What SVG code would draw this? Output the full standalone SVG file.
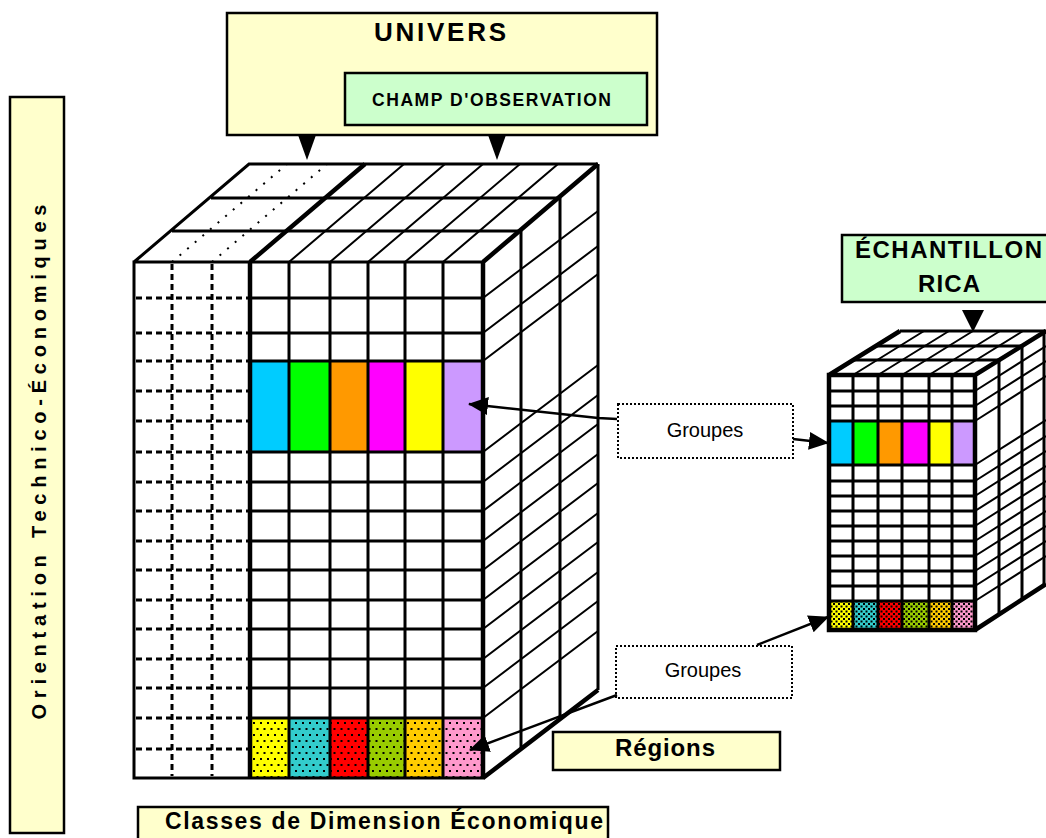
<svg xmlns="http://www.w3.org/2000/svg" width="1046" height="838" viewBox="0 0 1046 838">
<style>
.t{font-family:"Liberation Sans",Arial,sans-serif;fill:#000}
.b{font-weight:bold}
.box{stroke:#000;stroke-width:2.5}
.yel{fill:#FFFFCC}
.grn{fill:#CCFFCC}
.frame{stroke:#000;stroke-width:3;fill:none}
.thick{stroke:#000;stroke-width:4.5;fill:none}
.grid{stroke:#000;stroke-width:3;fill:none}
.dash{stroke:#000;stroke-width:3;fill:none;stroke-dasharray:6 4}
.hatch{stroke:#000;stroke-width:2;fill:none}
.sparse{stroke:#000;stroke-width:2;fill:none;stroke-dasharray:2 8}
.dotbox{fill:#fff;stroke:#000;stroke-width:2;stroke-dasharray:2 2}
.conn{stroke:#000;stroke-width:2.5;fill:none;marker-end:url(#ah)}
</style>
<defs>
<pattern id="dotsL" width="7" height="12" patternUnits="userSpaceOnUse"><rect x="1" y="2" width="2" height="2" fill="#000"/><rect x="4.5" y="8" width="2" height="2" fill="#000"/></pattern>
<pattern id="dotsS" width="5" height="5" patternUnits="userSpaceOnUse"><rect x="0.5" y="0.5" width="2" height="2" fill="#000"/><rect x="3" y="3" width="2" height="2" fill="#000"/></pattern>
<marker id="ah" markerUnits="userSpaceOnUse" markerWidth="20" markerHeight="20" refX="19" refY="10" orient="auto" viewBox="0 0 20 20"><path d="M0,1L20,10L0,19Z" fill="#000"/></marker>
</defs>

<g id="node-orientation">
<rect x="10" y="97" width="54" height="736" class="box yel"/>
<text class="t b" font-size="20" text-anchor="middle" transform="translate(46,462) rotate(-90)" textLength="515" lengthAdjust="spacing">Orientation Technico-Économiques</text>
</g>

<g id="node-univers">
<rect x="227" y="13" width="430" height="122" class="box yel" stroke-width="3"/>
<text class="t b" x="374" y="41" font-size="26" textLength="132" lengthAdjust="spacing">UNIVERS</text>
<polygon points="298,135 316,135 307,160"/>
<polygon points="488,135 506,135 497,160"/>
</g>

<g id="node-champ">
<rect x="345" y="73" width="302" height="52" class="box grn" stroke-width="2"/>
<text class="t b" x="372" y="106" font-size="17.5" textLength="239" lengthAdjust="spacing">CHAMP D'OBSERVATION</text>
</g>

<g id="node-cube-main">
<rect x="134" y="262" width="349" height="516" fill="#fff"/>
<polygon points="134,262 249,164 598,164 483,262" fill="#fff"/>
<polygon points="483,262 598,164 598,690 483,778" fill="#fff"/>
<rect x="250" y="361" width="39" height="91" fill="#00CCFF"/>
<rect x="289" y="361" width="41" height="91" fill="#00FF00"/>
<rect x="330" y="361" width="38" height="91" fill="#FF9900"/>
<rect x="368" y="361" width="37" height="91" fill="#FF00FF"/>
<rect x="405" y="361" width="38" height="91" fill="#FFFF00"/>
<rect x="443" y="361" width="40" height="91" fill="#CC99FF"/>
<rect x="250" y="718" width="39" height="60" fill="#FFFF00"/>
<rect x="289" y="718" width="41" height="60" fill="#33CCCC"/>
<rect x="330" y="718" width="38" height="60" fill="#FF0000"/>
<rect x="368" y="718" width="37" height="60" fill="#99CC00"/>
<rect x="405" y="718" width="38" height="60" fill="#FFCC00"/>
<rect x="443" y="718" width="40" height="60" fill="#FF99CC"/>
<rect x="250" y="718" width="233" height="60" fill="url(#dotsL)"/>
<path class="dash" d="M172,264V776 M212,264V776 M136,298H248 M136,333H248 M136,361H248 M136,391H248 M136,421H248 M136,452H248 M136,482H248 M136,511H248 M136,541H248 M136,570H248 M136,600H248 M136,629H248 M136,659H248 M136,688H248 M136,718H248 M136,749H248"/>
<path class="grid" d="M289,262V778 M330,262V778 M368,262V778 M405,262V778 M443,262V778 M250,298H483 M250,333H483 M250,361H483 M250,452H483 M250,482H483 M250,511H483 M250,541H483 M250,570H483 M250,600H483 M250,629H483 M250,659H483 M250,688H483 M250,718H483"/>
<path class="sparse" d="M172,262l115,-98 M212,262l115,-98"/>
<path class="hatch" d="M289,262l115,-98 M330,262l115,-98 M368,262l115,-98 M405,262l115,-98 M443,262l115,-98"/>
<path class="hatch" d="M483,298l115,-87 M483,333l115,-87 M483,361l115,-87 M483,452l115,-87 M483,482l115,-87 M483,511l115,-87 M483,541l115,-87 M483,570l115,-87 M483,600l115,-87 M483,629l115,-87 M483,659l115,-87 M483,688l115,-87 M483,718l115,-87"/>
<path class="frame" d="M134,262H483V778H134Z M134,262L249,164H598 M172,231H521 M211,198H560 M521,231V749 M560,198V719 M598,164V690"/>
<path class="thick" d="M250,262V778 M483,262V778 M250,262L365,164 M483,262L598,164 M483,778L598,690"/>
</g>

<g id="node-echantillon">
<rect x="842" y="235" width="210" height="67" class="box grn" stroke-width="2.5"/>
<text class="t b" x="855" y="258" font-size="24" textLength="187" lengthAdjust="spacing">ÉCHANTILLON</text>
<text class="t b" x="918" y="292" font-size="24" textLength="62" lengthAdjust="spacing">RICA</text>
<polygon points="962,310 984,310 973,332"/>
</g>

<g id="node-cube-rica">
<rect x="829" y="375" width="146" height="255" fill="#fff"/>
<polygon points="829,375 900,331 1046,331 975,375" fill="#fff"/>
<polygon points="975,375 1046,331 1046,585 975,630" fill="#fff"/>
<rect x="829" y="421" width="24" height="44" fill="#00CCFF"/>
<rect x="853" y="421" width="25" height="44" fill="#00FF00"/>
<rect x="878" y="421" width="24" height="44" fill="#FF9900"/>
<rect x="902" y="421" width="27" height="44" fill="#FF00FF"/>
<rect x="929" y="421" width="23" height="44" fill="#FFFF00"/>
<rect x="952" y="421" width="23" height="44" fill="#CC99FF"/>
<rect x="829" y="601" width="24" height="29" fill="#FFFF00"/>
<rect x="853" y="601" width="25" height="29" fill="#33CCCC"/>
<rect x="878" y="601" width="24" height="29" fill="#FF0000"/>
<rect x="902" y="601" width="27" height="29" fill="#99CC00"/>
<rect x="929" y="601" width="23" height="29" fill="#FFCC00"/>
<rect x="952" y="601" width="23" height="29" fill="#FF99CC"/>
<rect x="829" y="601" width="146" height="29" fill="url(#dotsS)"/>
<path class="grid" stroke-width="3.5" d="M853,375V630 M878,375V630 M902,375V630 M929,375V630 M952,375V630 M829,391H975 M829,406H975 M829,421H975 M829,465H975 M829,481H975 M829,496H975 M829,511H975 M829,526H975 M829,541H975 M829,556H975 M829,571H975 M829,586H975 M829,601H975"/>
<path class="hatch" stroke-width="2.5" d="M853,375l71,-44 M878,375l71,-44 M902,375l71,-44 M929,375l71,-44 M952,375l71,-44"/>
<path class="hatch" stroke-width="2.5" d="M975,391l71,-45 M975,406l71,-45 M975,421l71,-45 M975,465l71,-45 M975,481l71,-45 M975,496l71,-45 M975,511l71,-45 M975,526l71,-45 M975,541l71,-45 M975,556l71,-45 M975,571l71,-45 M975,586l71,-45 M975,601l71,-45"/>
<path class="frame" stroke-width="3.5" d="M853,360H999 M876,346H1022 M900,331H1046 M999,360V614 M1022,346V599 M1044,331V586"/>
<path class="thick" d="M829,375H975V630H829Z M829,375L900,331 M975,375L1046,331 M975,630L1046,584"/>
</g>

<g id="node-groupes-1">
<rect x="618" y="404" width="175" height="54" class="dotbox"/>
<text class="t" x="705" y="437" font-size="20" text-anchor="middle">Groupes</text>
</g>

<g id="node-groupes-2">
<rect x="616" y="646" width="176" height="52" class="dotbox"/>
<text class="t" x="703" y="677" font-size="20" text-anchor="middle">Groupes</text>
</g>

<g id="node-regions">
<rect x="553" y="732" width="227" height="38" class="box yel" stroke-width="2"/>
<text class="t b" x="615" y="756" font-size="24" textLength="100" lengthAdjust="spacing">Régions</text>
</g>

<g id="node-classes">
<rect x="138" y="807" width="470" height="40" class="box yel" stroke-width="2"/>
<text class="t b" x="165" y="829" font-size="23" textLength="438" lengthAdjust="spacing">Classes de Dimension Économique</text>
</g>

<g id="connectors">
<path class="conn" d="M617,419L598,418L469,404"/>
<path class="conn" d="M793,439L828,443"/>
<path class="conn" d="M757,645L828,617"/>
<path class="conn" d="M617,695L470,750"/>
</g>
</svg>
